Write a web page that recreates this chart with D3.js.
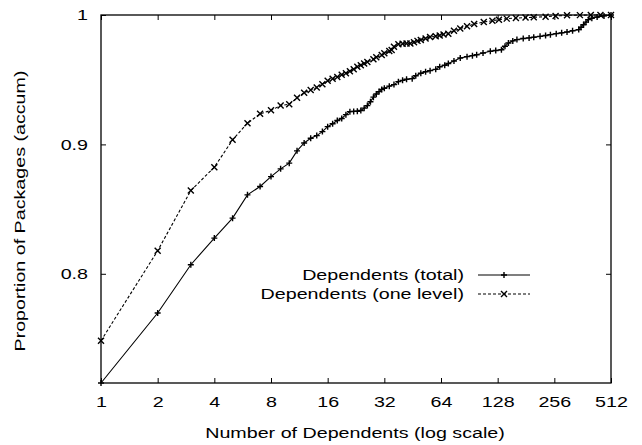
<!DOCTYPE html>
<html>
<head>
<meta charset="utf-8">
<script src="https://cdn.jsdelivr.net/npm/d3@7"></script>
<style>
  body { margin: 0; background: #fff; }
  text { font-family: "Liberation Sans", Arial, Helvetica, sans-serif; }
</style>
</head>
<body>
<svg id="chart" width="642" height="445"></svg>
<script>
// cumulative proportion of packages vs number of dependents (log2 x axis)
let totalN = [1, 2, 3, 4, 5, 6, 7, 8, 9, 10, 11, 12, 13, 14, 15, 16, 17, 18, 19, 20,
  21, 22, 23, 24, 25, 26, 27, 28, 29, 30, 31, 32, 34, 36, 38, 40, 42, 45, 47, 50,
  53, 56, 60, 63, 67, 70, 75, 81, 88, 94, 99, 107, 117, 125, 134, 140, 146, 154,
  162, 175, 188, 199, 215, 230, 244, 262, 280, 299, 320, 345, 355, 366, 377, 388,
  405, 432, 470, 512];
let totalP = [0.7156, 0.7697, 0.807, 0.8276, 0.843, 0.861, 0.8675, 0.8751, 0.8811, 0.8855,
  0.8950, 0.9011, 0.9048, 0.9068, 0.9099, 0.9137, 0.9160, 0.9185, 0.920, 0.923,
  0.9253, 0.9255, 0.9256, 0.9262, 0.928, 0.930, 0.933, 0.9365, 0.939, 0.9408, 0.9425, 0.9434,
  0.9450, 0.9462, 0.9485, 0.9495, 0.9503, 0.9508, 0.9530, 0.9550, 0.9562, 0.957,
  0.958, 0.9600, 0.9612, 0.9625, 0.9645, 0.9668, 0.9678, 0.9686, 0.9693, 0.9706,
  0.972, 0.9726, 0.9732, 0.9758, 0.9784, 0.980, 0.981, 0.9818, 0.9823, 0.9828,
  0.9835, 0.9842, 0.9848, 0.9856, 0.9862, 0.9869, 0.9878, 0.9887, 0.9905, 0.9925,
  0.9945, 0.9964, 0.9975, 0.9985, 0.9993, 1.0];

let oneN = [1, 2, 3, 4, 5, 6, 7, 8, 9, 10, 11, 12, 13, 14, 15, 16, 17, 18, 19, 20,
  21, 22, 23, 24, 25, 26, 28, 29, 31, 32, 34, 35, 36, 38, 40, 42, 44, 46, 48, 50,
  53, 56, 60, 63, 66, 70, 75, 81, 88, 96, 108, 120, 130, 143, 160, 180, 199, 230,
  260, 299, 350, 400, 450, 512];
let oneP = [0.7483, 0.8178, 0.8643, 0.8824, 0.9035, 0.9164, 0.9236, 0.9263, 0.930, 0.931,
  0.9360, 0.940, 0.942, 0.944, 0.9465, 0.9492, 0.9508, 0.952, 0.9538, 0.955,
  0.9565, 0.958, 0.960, 0.9612, 0.9625, 0.9637, 0.9658, 0.9673, 0.9690, 0.9704,
  0.9722, 0.973, 0.9755, 0.9774, 0.9777, 0.9779, 0.978, 0.979, 0.980, 0.9807,
  0.9818, 0.9830, 0.9835, 0.9842, 0.985, 0.9855, 0.9879, 0.9895, 0.9913, 0.993,
  0.9946, 0.9956, 0.9964, 0.9972, 0.9976, 0.998, 0.9982, 0.9987, 0.9992, 0.9998,
  0.9999, 1.0, 1.0, 1.0];

let xTicks = [1, 2, 4, 8, 16, 32, 64, 128, 256, 512];
let yTicks = [0.8, 0.9, 1];
let legendLabels = ["Dependents (total)", "Dependents (one level)"];

const m = { left: 101, right: 611, top: 15, bottom: 383 };
const fs = 15.5;     // font size
const sx = 1.27;     // the original font is rendered wide

const svg = d3.select("#chart");

let x = d3.scaleLog().base(2).domain([1, 512]).range([m.left, m.right]);
let y = d3.scaleLinear().domain([0.7156, 1]).range([m.bottom, m.top]);

function styleAxis(g) {
  g.select(".domain").remove();
  g.selectAll("line").attr("stroke", "#000").attr("stroke-width", 1);
  g.selectAll("text").attr("font-size", fs).attr("fill", "#000")
    .attr("font-family", "'Liberation Sans', Arial, sans-serif")
    .attr("x", function () { return +d3.select(this).attr("x") / sx; })
    .attr("transform", `scale(${sx},1)`);
}

// wide text placed at (px, py)
function wideText(px, py, str, anchor, rot) {
  return svg.append("text")
    .attr("transform", `translate(${px},${py})${rot ? " rotate(" + rot + ")" : ""} scale(${sx},1)`)
    .attr("dy", "0.35em")
    .attr("text-anchor", anchor)
    .attr("font-size", fs)
    .text(str);
}

// bottom + top
svg.append("g")
  .attr("transform", `translate(0,${m.bottom})`)
  .call(d3.axisBottom(x).tickValues(xTicks).tickFormat(d3.format("d")).tickSize(-5).tickPadding(13))
  .call(styleAxis);
svg.append("g")
  .attr("transform", `translate(0,${m.top})`)
  .call(d3.axisTop(x).tickValues(xTicks).tickFormat("").tickSize(-5))
  .call(styleAxis);
// left + right
svg.append("g")
  .attr("transform", `translate(${m.left},0)`)
  .call(d3.axisLeft(y).tickValues(yTicks).tickFormat(d => d === 1 ? "1" : d3.format(".1f")(d)).tickSize(-5).tickPadding(13))
  .call(styleAxis);
svg.append("g")
  .attr("transform", `translate(${m.right},0)`)
  .call(d3.axisRight(y).tickValues(yTicks).tickFormat("").tickSize(-5))
  .call(styleAxis);

svg.append("rect")
  .attr("x", m.left).attr("y", m.top)
  .attr("width", m.right - m.left).attr("height", m.bottom - m.top)
  .attr("fill", "none").attr("stroke", "#000").attr("stroke-width", 1.3);

let line = d3.line().x(d => x(d[0])).y(d => y(d[1]));

let totalData = totalN.map((n, i) => [n, totalP[i]]);
let oneData = oneN.map((n, i) => [n, oneP[i]]);

function plus(g, cx, cy) {
  g.append("path")
    .attr("d", `M${cx - 3},${cy}h6M${cx},${cy - 3}v6`)
    .attr("stroke", "#000").attr("stroke-width", 1.4);
}
function cross(g, cx, cy) {
  g.append("path")
    .attr("d", `M${cx - 3},${cy - 3}l6,6M${cx - 3},${cy + 3}l6,-6`)
    .attr("stroke", "#000").attr("stroke-width", 1.4);
}

const plot = svg.append("g");
plot.append("path").datum(totalData).attr("d", line)
  .attr("fill", "none").attr("stroke", "#000").attr("stroke-width", 1.1);
plot.append("path").datum(oneData).attr("d", line)
  .attr("fill", "none").attr("stroke", "#000").attr("stroke-width", 1.1)
  .attr("stroke-dasharray", "3,2");

const marks = svg.append("g");
totalData.forEach(d => plus(marks, x(d[0]), y(d[1])));
oneData.forEach(d => cross(marks, x(d[0]), y(d[1])));

// legend
legendLabels.forEach((label, i) => {
  let ly = 275 + i * 19;
  wideText(464, ly, label, "end");
  svg.append("line")
    .attr("x1", 478).attr("x2", 530).attr("y1", ly).attr("y2", ly)
    .attr("stroke", "#000").attr("stroke-width", 1.1)
    .attr("stroke-dasharray", i === 1 ? "3,2" : null);
  if (i === 0) plus(svg, 504, ly); else cross(svg, 504, ly);
});

// axis titles
wideText(355, 433, "Number of Dependents (log scale)", "middle");
wideText(20, 211, "Proportion of Packages (accum)", "middle", -90);
</script>
</body>
</html>
